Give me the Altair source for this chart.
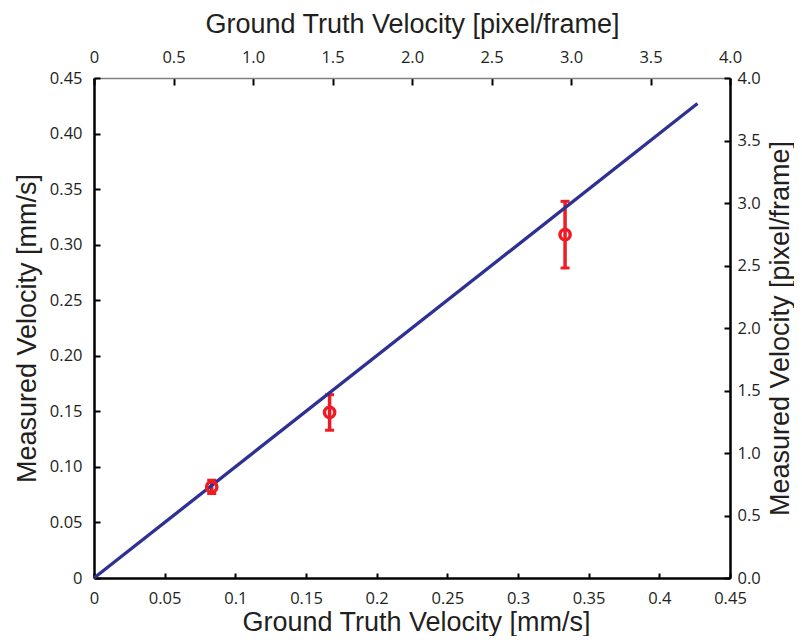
import altair as alt
import pandas as pd

# ---- data ----
gt_mm = [0.0833, 0.1667, 0.3333]          # ground truth velocity [mm/s]
meas_mm = [0.082, 0.149, 0.309]           # measured velocity [mm/s]
err_lo = [0.076, 0.133, 0.279]
err_hi = [0.088, 0.165, 0.339]

line_gt = [0.0, 0.427]                    # identity line
line_meas = [0.0, 0.427]

mm_ticks = [0, 0.05, 0.1, 0.15, 0.2, 0.25, 0.3, 0.35, 0.4, 0.45]
px_ticks = [0, 0.5, 1.0, 1.5, 2.0, 2.5, 3.0, 3.5, 4.0]
px_domain = [0, 4.0]
mm_domain = [0, 0.45]

RED = "#ED1C24"
BLUE = "#2E3192"
INK = "#231F20"
TITLE_FONT = "Liberation Sans"
LABEL_FONT = "Open Sans"

pts = pd.DataFrame({"gt": gt_mm, "meas": meas_mm, "lo": err_lo, "hi": err_hi})
ln = pd.DataFrame({"gt": line_gt, "meas": line_meas})
dummy = pd.DataFrame({"px": px_domain, "py": px_domain})

common = dict(
    titleFont=TITLE_FONT, titleFontSize=27, titleFontWeight="normal", titleColor=INK,
    titleBaseline="alphabetic",
    labelFont=LABEL_FONT, labelFontSize=16.5, labelColor=INK,
    labelFlush=False, labelOverlap=False, grid=False,
    tickColor="black", tickWidth=2,
)

x_axis = alt.Axis(
    orient="bottom", values=mm_ticks, labelExpr="format(datum.value, '~g')",
    title="Ground Truth Velocity [mm/s]", titleY=52, titleX=322,
    labelBaseline="alphabetic", labelPadding=30, tickSize={"expr": "-5"},
    domainColor="black", domainWidth=2.5, **common)
y_axis = alt.Axis(
    orient="left", values=mm_ticks,
    labelExpr="datum.value == 0 ? '0' : format(datum.value, '.2f')",
    title="Measured Velocity [mm/s]", titleX=-59, titleY=250, titleAngle=270,
    labelPadding=18, tickSize={"expr": "-6"},
    domainColor="black", domainWidth=2.5, **common)
top_axis = alt.Axis(
    orient="top", values=px_ticks,
    labelExpr="datum.value == 0 ? '0' : format(datum.value, '.1f')",
    title="Ground Truth Velocity [pixel/frame]", titleY=-46,
    labelBaseline="alphabetic", labelPadding=22.7, tickSize={"expr": "-7"},
    domainColor="#808080", domainWidth=1.5, **common)
right_axis = alt.Axis(
    orient="right", values=px_ticks, labelExpr="format(datum.value, '.1f')",
    title="Measured Velocity [pixel/frame]", titleX=58, titleY=250, titleAngle=270,
    labelPadding=13, tickSize={"expr": "-6"},
    domainColor="black", domainWidth=2.5, **common)

xs = alt.Scale(domain=mm_domain, nice=False, zero=False)
ys = alt.Scale(domain=mm_domain, nice=False, zero=False)

err = alt.Chart(pts).mark_rule(color=RED, strokeWidth=3.5).encode(
    x=alt.X("gt:Q", scale=xs, axis=x_axis),
    y=alt.Y("lo:Q", scale=ys, axis=y_axis),
    y2="hi:Q",
)
cap_lo = alt.Chart(pts).mark_tick(color=RED, orient="horizontal", size=9, thickness=3, opacity=1).encode(
    x=alt.X("gt:Q", scale=xs, axis=x_axis),
    y=alt.Y("lo:Q", scale=ys, axis=y_axis),
)
cap_hi = alt.Chart(pts).mark_tick(color=RED, orient="horizontal", size=9, thickness=3, opacity=1).encode(
    x=alt.X("gt:Q", scale=xs, axis=x_axis),
    y=alt.Y("hi:Q", scale=ys, axis=y_axis),
)
line = alt.Chart(ln).mark_line(color=BLUE, strokeWidth=3.3).encode(
    x=alt.X("gt:Q", scale=xs, axis=x_axis),
    y=alt.Y("meas:Q", scale=ys, axis=y_axis),
)
points = alt.Chart(pts).mark_point(shape="circle", filled=False, color=RED, size=105,
                                   strokeWidth=3.5, opacity=1).encode(
    x=alt.X("gt:Q", scale=xs, axis=x_axis),
    y=alt.Y("meas:Q", scale=ys, axis=y_axis),
)

base = alt.layer(err, cap_lo, cap_hi, line, points)

px_layer = alt.Chart(dummy).mark_point(opacity=0).encode(
    x=alt.X("px:Q", scale=alt.Scale(domain=px_domain, nice=False, zero=False), axis=top_axis),
    y=alt.Y("py:Q", scale=alt.Scale(domain=px_domain, nice=False, zero=False), axis=right_axis),
)

chart = alt.layer(base, px_layer).resolve_scale(
    x="independent", y="independent"
).properties(
    width=636, height=500,
    autosize=alt.AutoSizeParams(type="none"),
    padding={"left": 86, "top": 70, "right": 64, "bottom": 58},
    background="white",
).configure_view(stroke=None)

chart.save("out.html", embed_options={"renderer": "svg", "actions": False})
